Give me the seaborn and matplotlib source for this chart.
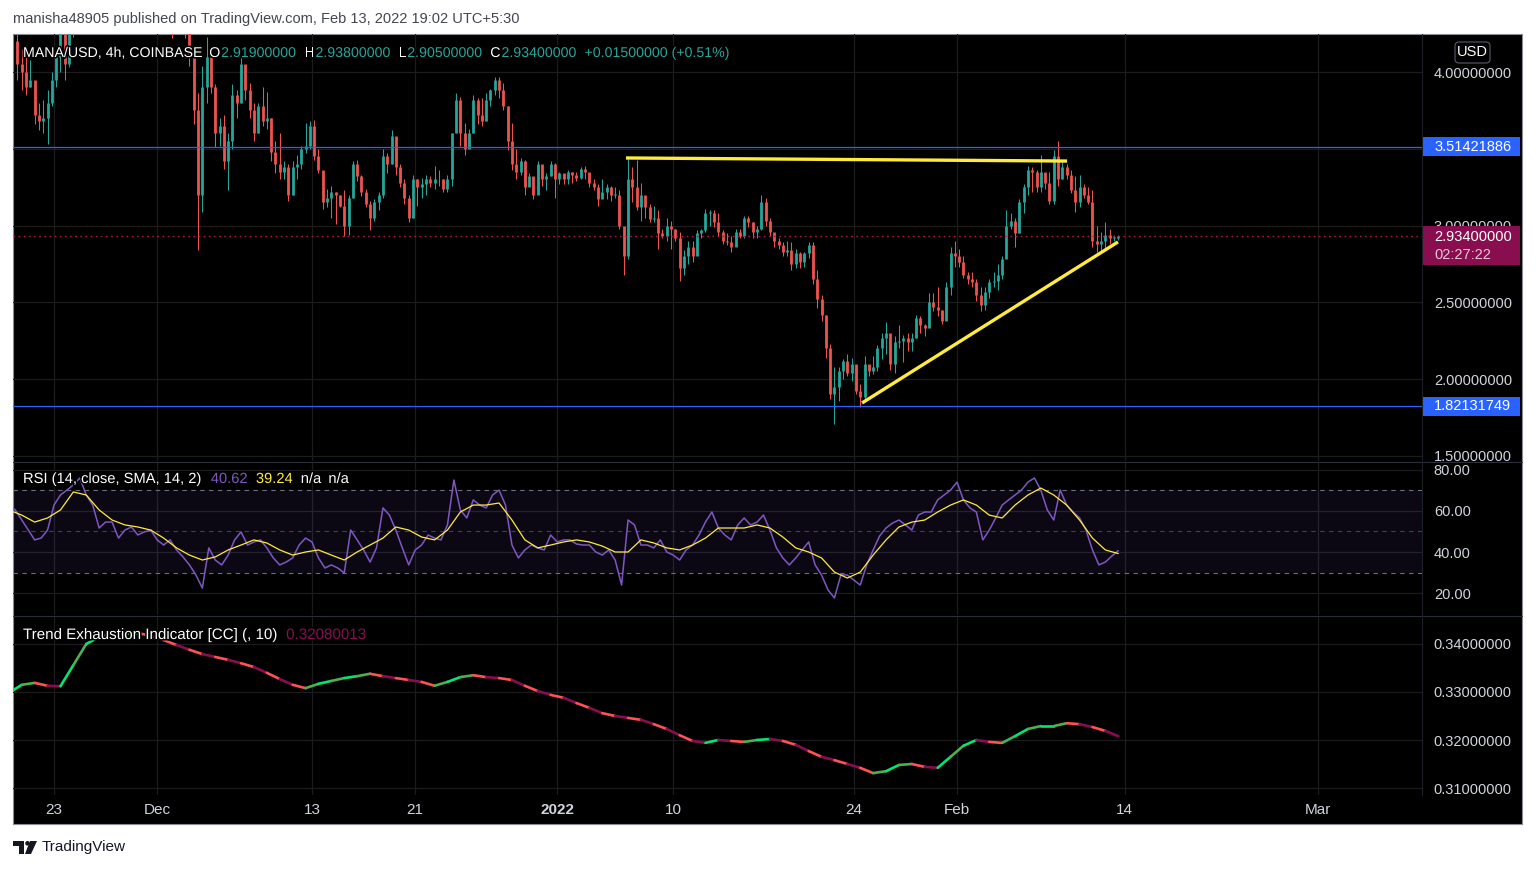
import numpy as np
import pandas as pd
import matplotlib
matplotlib.use("Agg")
import matplotlib.pyplot as plt
import matplotlib.dates as mdates
import matplotlib.patheffects as pe
import seaborn as sns
from matplotlib.collections import LineCollection
from matplotlib.patches import Rectangle, FancyBboxPatch, Polygon, Circle
from matplotlib.transforms import Bbox, TransformedBbox
from datetime import datetime

W, H = 1536, 869

# --- MANA/USD candles, 8h buckets from 2021-11-20 00:00 (3 per day) ---
closes = [
    4.05, 4.00, 3.90,  3.95, 3.72, 3.68,  3.70, 3.80, 3.95,  4.10, 4.25, 4.05,  # Nov 20-23
    4.30, 4.50, 4.70,  4.90, 5.30, 5.60,  5.20, 4.80, 4.90,  5.00, 5.10, 5.00,  # Nov 24-27
    4.80, 4.70, 4.90,  5.10, 5.20, 5.30,  5.50, 5.40, 5.30,                     # Nov 28-30
    5.20, 5.00, 4.90,  4.50, 4.55, 4.50,  4.35, 4.10, 3.75,  3.20, 3.90, 4.10,  # Dec 1-4
    3.90, 3.60, 3.65,  3.42, 3.55, 3.85,  3.80, 4.05, 3.88,  3.75, 3.60, 3.78,  # Dec 5-8
    3.68, 3.70, 3.48,  3.40, 3.35, 3.38,  3.20, 3.38, 3.40,  3.50, 3.52, 3.65,  # Dec 9-12
    3.45, 3.36, 3.15,  3.18, 3.22, 3.20,  3.13, 3.00, 3.18,  3.40, 3.32, 3.22,  # Dec 13-16
    3.14, 3.05, 3.15,  3.20, 3.45, 3.40,  3.58, 3.38, 3.28,  3.18, 3.05, 3.30,  # Dec 17-20
    3.25, 3.27, 3.30,  3.28, 3.30, 3.30,  3.24, 3.30, 3.60,  3.82, 3.60, 3.50,  # Dec 21-24
    3.60, 3.82, 3.72,  3.68, 3.82, 3.88,  3.95, 3.88, 3.78,  3.55, 3.40, 3.35,  # Dec 25-28
    3.42, 3.25, 3.32,  3.20, 3.40, 3.30,  3.32, 3.40, 3.30,                     # Dec 29-31
    3.34, 3.30, 3.35,  3.33, 3.31, 3.37,  3.35, 3.28, 3.25,  3.17, 3.22, 3.25,  # Jan 1-4
    3.20, 3.20, 3.00,  2.80, 3.30, 3.25,  3.12, 3.20, 3.12,  3.04, 3.05, 2.95,  # Jan 5-8
    2.93, 3.00, 2.98,  2.92, 2.72, 2.80,  2.86, 2.80, 2.95,  2.97, 3.08, 3.08,  # Jan 9-12
    3.02, 2.96, 2.90,  2.89, 2.86, 2.96,  2.93, 3.05, 3.02,  2.96, 2.98, 3.15,  # Jan 13-16
    3.03, 2.96, 2.90,  2.87, 2.83, 2.84,  2.75, 2.82, 2.76,  2.82, 2.87, 2.65,  # Jan 17-20
    2.52, 2.42, 2.20,  1.90, 1.95, 2.05,  2.12, 2.04, 2.10,  1.92, 1.88, 2.10,  # Jan 21-24
    2.05, 2.08, 2.20,  2.27, 2.30, 2.10,  2.24, 2.25, 2.27,  2.24, 2.27, 2.40,  # Jan 25-28
    2.35, 2.33, 2.50,  2.47, 2.45, 2.38,  2.60, 2.82, 2.80,                     # Jan 29-31
    2.76, 2.68, 2.65,  2.63, 2.55, 2.48,  2.57, 2.63, 2.64,  2.68, 2.78, 3.00,  # Feb 1-4
    3.03, 2.95, 3.15,  3.25, 3.36, 3.35,  3.25, 3.35, 3.28,  3.16, 3.45, 3.30,  # Feb 5-8
    3.38, 3.33, 3.23,  3.15, 3.25, 3.20,  3.15, 2.90, 2.88,  2.90, 2.94, 2.919, # Feb 9-12
    2.919, 2.934,                                                               # Feb 13
]
highs = [
    4.35, 4.15, 4.10,  4.08, 3.90, 3.80,  3.82, 3.88, 4.00,  4.15, 4.35, 4.40,
    4.40, 4.60, 4.80,  5.10, 5.50, 5.90,  5.60, 5.20, 5.10,  5.20, 5.30, 5.20,
    5.00, 4.90, 5.00,  5.30, 5.40, 5.50,  5.70, 5.60, 5.50,
    5.40, 5.30, 5.10,  4.90, 4.70, 4.70,  4.60, 4.40, 4.10,  3.86, 4.04, 4.23,
    4.16, 3.92, 3.70,  3.72, 3.60, 3.92,  3.88, 4.11, 4.04,  3.93, 3.80, 3.80,
    3.90, 3.87, 3.70,  3.55, 3.60, 3.42,  3.40, 3.42, 3.46,  3.52, 3.67, 3.68,
    3.69, 3.50, 3.34,  3.24, 3.26, 3.22,  3.20, 3.23, 3.20,  3.42, 3.43, 3.33,
    3.24, 3.16, 3.17,  3.22, 3.50, 3.47,  3.62, 3.55, 3.40,  3.30, 3.20, 3.33,
    3.30, 3.31, 3.33,  3.32, 3.39, 3.36,  3.30, 3.33, 3.60,  3.86, 3.84, 3.67,
    3.63, 3.85, 3.83,  3.83, 3.86, 3.89,  3.97, 3.97, 3.93,  3.78, 3.67, 3.50,
    3.44, 3.43, 3.34,  3.27, 3.42, 3.38,  3.34, 3.42, 3.41,
    3.35, 3.33, 3.36,  3.35, 3.35, 3.38,  3.39, 3.33, 3.30,  3.27, 3.30, 3.27,
    3.26, 3.25, 3.23,  2.98, 3.44, 3.38,  3.43, 3.28, 3.14,  3.14, 3.13, 3.10,
    2.98, 3.05, 3.03,  2.98, 2.96, 2.84,  2.90, 2.90, 2.97,  2.98, 3.11, 3.10,
    3.10, 3.08, 2.97,  2.95, 2.93, 2.98,  2.98, 3.06, 3.06,  3.02, 3.00, 3.20,
    3.18, 3.05, 2.95,  2.92, 2.89, 2.90,  2.89, 2.85, 2.83,  2.83, 2.89, 2.89,
    2.71, 2.55, 2.42,  2.23, 2.08, 2.08,  2.13, 2.16, 2.14,  2.09, 1.97, 2.15,
    2.09, 2.15, 2.22,  2.30, 2.37, 2.24,  2.28, 2.35, 2.29,  2.30, 2.30, 2.42,
    2.41, 2.36, 2.56,  2.56, 2.60, 2.45,  2.63, 2.86, 2.90,
    2.85, 2.80, 2.70,  2.70, 2.65, 2.60,  2.60, 2.65, 2.70,  2.75, 2.80, 3.10,
    3.08, 3.05, 3.17,  3.27, 3.39, 3.38,  3.36, 3.46, 3.33,  3.35, 3.49, 3.55,
    3.42, 3.40, 3.36,  3.32, 3.33, 3.27,  3.25, 3.23, 3.00,  2.96, 3.02, 2.98,
    2.94, 2.938,
]
lows = [
    3.95, 3.88, 3.85,  3.90, 3.66, 3.62,  3.60, 3.53, 3.78,  3.90, 4.00, 3.95,
    4.03, 4.23, 4.40,  4.60, 4.90, 5.20,  4.90, 4.60, 4.60,  4.80, 4.90, 4.80,
    4.60, 4.50, 4.60,  4.90, 5.00, 5.10,  5.20, 5.20, 5.10,
    5.00, 4.90, 4.70,  4.22, 4.40, 4.40,  4.22, 4.04, 3.66,  2.84, 3.09, 3.80,
    3.86, 3.51, 3.52,  3.37, 3.23, 3.50,  3.70, 3.80, 3.82,  3.70, 3.55, 3.60,
    3.65, 3.63, 3.42,  3.34, 3.30, 3.30,  3.16, 3.20, 3.30,  3.37, 3.47, 3.50,
    3.43, 3.34, 3.11,  3.12, 3.05, 3.01,  3.12, 2.93, 2.94,  3.18, 3.29, 3.19,
    3.12, 2.97, 3.03,  3.10, 3.18, 3.34,  3.40, 3.33, 3.25,  3.14, 3.02, 3.05,
    3.13, 3.18, 3.20,  3.25, 3.24, 3.26,  3.22, 3.22, 3.26,  3.60, 3.52, 3.46,
    3.52, 3.60, 3.66,  3.65, 3.68, 3.78,  3.85, 3.83, 3.75,  3.49, 3.36, 3.30,
    3.33, 3.20, 3.26,  3.17, 3.22, 3.26,  3.23, 3.32, 3.18,
    3.27, 3.27, 3.27,  3.28, 3.29, 3.30,  3.30, 3.25, 3.23,  3.13, 3.18, 3.17,
    3.16, 3.18, 2.98,  2.68, 2.78, 3.15,  3.10, 3.03, 3.05,  3.02, 3.02, 2.85,
    2.92, 2.90, 2.85,  2.90, 2.64, 2.68,  2.75, 2.76, 2.82,  2.92, 2.96, 3.00,
    2.99, 2.93, 2.88,  2.87, 2.83, 2.87,  2.92, 2.92, 2.99,  2.92, 2.92, 2.97,
    3.00, 2.93, 2.86,  2.85, 2.80, 2.80,  2.71, 2.72, 2.72,  2.73, 2.79, 2.62,
    2.46, 2.38, 2.14,  1.87, 1.71, 1.86,  2.00, 2.02, 1.99,  1.90, 1.82, 1.85,
    2.02, 2.03, 2.05,  2.13, 2.16, 2.06,  2.04, 2.20, 2.11,  2.18, 2.18, 2.27,
    2.30, 2.28, 2.35,  2.44, 2.41, 2.36,  2.44, 2.55, 2.73,
    2.73, 2.66, 2.62,  2.60, 2.51, 2.44,  2.45, 2.53, 2.60,  2.58, 2.65, 2.80,
    2.98, 2.86, 2.95,  3.08, 3.20, 3.22,  3.22, 3.22, 3.24,  3.14, 3.14, 3.26,
    3.30, 3.30, 3.21,  3.09, 3.12, 3.18,  3.14, 2.86, 2.83,  2.83, 2.84, 2.88,
    2.90, 2.905,
]
first_open = 4.20

# --- RSI(14) every 12h from 2021-11-19 12:00 ---
rsi = [
    62.9, 60.5, 55.6, 50.7, 45.9, 46.8, 50.7, 62.9, 67.8, 70.2,
    72.7, 76.1, 67.8, 62.9, 51.7, 54.6, 54.6, 46.8, 50.7, 52.2,
    48.3, 49.8, 50.7, 45.9, 43.4, 45.9, 41.0, 37.6, 33.7, 28.8,
    22.4, 42.0, 36.1, 33.7, 38.5, 45.9, 49.8, 43.4, 44.9, 45.9,
    42.0, 37.1, 33.7, 35.1, 37.1, 43.4, 46.8, 44.9, 37.1, 32.2,
    33.7, 32.2, 29.8, 50.7, 45.9, 41.0, 35.1, 42.0, 61.5, 58.0,
    50.7, 42.0, 33.7, 41.0, 43.4, 48.3, 46.8, 45.9, 53.2, 75.1,
    60.5, 56.6, 65.4, 62.9, 61.5, 67.8, 70.2, 62.9, 43.4, 37.1,
    41.0, 43.4, 42.0, 41.0, 48.3, 44.9, 45.9, 45.9, 43.9, 43.4,
    43.4, 40.0, 38.5, 41.0, 36.1, 23.9, 55.6, 53.2, 43.4, 43.4,
    42.0, 45.9, 40.0, 38.5, 36.1, 41.0, 43.4, 48.3, 54.6, 59.5,
    51.7, 48.3, 45.9, 53.2, 56.6, 53.2, 54.6, 58.0, 50.7, 42.0,
    37.1, 33.7, 37.1, 41.0, 44.9, 33.7, 28.8, 21.5, 17.6, 28.8,
    28.8, 26.3, 23.9, 33.7, 41.0, 47.8, 51.7, 54.1, 55.6, 53.2,
    50.7, 58.0, 59.5, 59.5, 65.4, 67.8, 70.2, 74.1, 65.4, 61.5,
    59.5, 45.9, 50.7, 56.6, 62.9, 65.4, 67.8, 70.2, 74.1, 76.1,
    70.2, 60.5, 55.6, 70.2, 62.9, 59.5, 56.6, 50.7, 41.0, 33.7,
    35.1, 38.0, 40.62,
]
# --- RSI SMA(14) and Trend Exhaustion, daily from 2021-11-19 12:00 ---
rsi_sma = [
    60.5, 58.0, 54.6, 56.6, 60.5, 69.3, 67.8, 60.5, 55.6, 53.2,
    52.2, 50.7, 46.8, 42.0, 38.5, 36.1, 37.6, 41.0, 43.4, 45.9,
    44.4, 41.0, 38.5, 40.0, 41.0, 38.5, 36.1, 40.0, 43.4, 46.8,
    52.2, 50.7, 47.3, 45.9, 50.7, 59.5, 62.9, 62.9, 63.9, 55.6,
    45.9, 42.0, 43.4, 44.9, 45.9, 44.9, 42.9, 40.0, 40.0, 45.9,
    44.4, 42.0, 41.0, 43.4, 46.8, 51.7, 51.7, 51.7, 53.2, 51.7,
    47.3, 42.0, 40.0, 37.1, 30.2, 27.3, 30.2, 38.5, 45.9, 52.2,
    54.6, 55.6, 59.5, 62.9, 65.4, 62.9, 58.0, 56.6, 62.9, 67.8,
    71.2, 67.8, 62.9, 55.6, 46.8, 41.0, 39.24,
]
tei = [
    0.3298, 0.3315, 0.3319, 0.3313, 0.3312, 0.3356, 0.3400, 0.3415, 0.3421, 0.3423,
    0.3423, 0.3417, 0.3408, 0.3398, 0.3388, 0.3379, 0.3373, 0.3367, 0.3360, 0.3352,
    0.3340, 0.3327, 0.3315, 0.3308, 0.3317, 0.3323, 0.3329, 0.3333, 0.3338, 0.3333,
    0.3329, 0.3325, 0.3321, 0.3313, 0.3321, 0.3331, 0.3335, 0.3331, 0.3329, 0.3325,
    0.3313, 0.3302, 0.3294, 0.3288, 0.3277, 0.3267, 0.3256, 0.3250, 0.3246, 0.3242,
    0.3233, 0.3223, 0.3210, 0.3198, 0.3194, 0.3200, 0.3198, 0.3196, 0.3200, 0.3202,
    0.3198, 0.3190, 0.3177, 0.3165, 0.3158, 0.3150, 0.3142, 0.3131, 0.3135, 0.3148,
    0.3150, 0.3144, 0.3142, 0.3165, 0.3188, 0.3200, 0.3196, 0.3194, 0.3208, 0.3223,
    0.3229, 0.3229, 0.3235, 0.3233, 0.3227, 0.3219, 0.3208,
]

# --- drawn trend lines and marked levels ---
res_t = ["2022-01-06 08:10", "2022-02-09 12:45"]
res_p = [3.44, 3.42]
sup_t = ["2022-01-24 15:20", "2022-02-13 11:30"]
sup_p = [1.844, 2.893]
level_hi = 3.51421886
level_lo = 1.82131749
last_price = 2.934
countdown = "02:27:22"

# --- axis ticks ---
price_ticks = [1.5, 2.0, 2.5, 3.0, 3.5, 4.0]
rsi_ticks = [20, 40, 60, 80]
tei_ticks = [0.31, 0.32, 0.33, 0.34]
date_ticks = ["2021-11-23", "2021-12-01", "2021-12-13", "2021-12-21", "2022-01-01",
              "2022-01-10", "2022-01-24", "2022-02-01", "2022-02-14", "2022-03-01"]
date_labels = ["23", "Dec", "13", "21", "2022", "10", "24", "Feb", "14", "Mar"]

UP, DOWN = "#26a69a", "#ef5350"
TXT = "#d1d4dc"
GRID = "#1c1c1f"

sns.set_theme(style="dark")
plt.rcParams["font.family"] = ["Liberation Sans", "DejaVu Sans"]

fig = plt.figure(figsize=(W / 100, H / 100), dpi=100, facecolor="white")


def px_rect(x0, y0, x1, y1):
    return [x0 / W, 1 - y1 / H, (x1 - x0) / W, (y1 - y0) / H]


def tnum(values):
    return mdates.date2num(pd.to_datetime(values).to_pydatetime())


base = mdates.date2num(datetime(2021, 11, 23))
px_day = 12.9
xl, xr = base - (54 - 13) / px_day, base + (1422 - 54) / px_day

# black chart frame
frame = fig.add_axes(px_rect(13, 34, 1522, 824))
frame.set_facecolor("black")
frame.set_xticks([]); frame.set_yticks([])
for s in frame.spines.values():
    s.set_color("#8a8d96"); s.set_linewidth(0.8)

ax_p = fig.add_axes(px_rect(13, 34, 1422, 461))
ax_r = fig.add_axes(px_rect(13, 462, 1422, 615))
ax_t = fig.add_axes(px_rect(13, 616, 1422, 795))

tick_x = tnum(date_ticks)
for ax in (ax_p, ax_r, ax_t):
    ax.set_facecolor("none")
    ax.set_xlim(xl, xr)
    for s in ax.spines.values():
        s.set_visible(False)
    ax.set_xticks(tick_x)
    ax.grid(True, color=GRID, linewidth=0.9)
    ax.set_axisbelow(True)
    ax.yaxis.tick_right()
    ax.tick_params(axis="y", colors=TXT, labelsize=10.5, length=0, pad=8.5)
    ax.tick_params(axis="x", length=0)
    ax.set_xlabel(""); ax.set_ylabel("")

# --- price panel ---
ax_p.set_ylim(1.466, 4.2476)
ax_p.set_yticks(price_ticks)
# the 3.5 label sits under the blue level tag, as in the source chart
ax_p.set_yticklabels(["" if v == 3.5 else f"{v:.8f}" for v in price_ticks])
ax_p.set_xticklabels([])

ct = tnum(pd.date_range("2021-11-20 04:00", periods=len(closes), freq="8h"))
c = np.array(closes); hi = np.array(highs); lo = np.array(lows)
o = np.concatenate([[first_open], c[:-1]])
up = c >= o
cols = np.where(up, UP, DOWN)
ax_p.vlines(ct, lo, hi, colors=cols, linewidth=0.75, zorder=3)
b0 = np.minimum(o, c); b1 = np.maximum(np.maximum(o, c), b0 + 0.006)
ax_p.vlines(ct, b0, b1, colors=cols, linewidth=2.0, zorder=3)

ax_p.axhline(level_hi, color="#2962ff", linewidth=0.9, zorder=4)
ax_p.axhline(level_lo, color="#2962ff", linewidth=0.9, zorder=4)
ax_p.axhline(last_price, color="#b0174f", linewidth=1.0, linestyle=(0, (1.2, 2.5)), zorder=4)
ax_p.plot(tnum(res_t), res_p, color="#ffeb3b", linewidth=2.4, solid_capstyle="butt", zorder=5)
ax_p.plot(tnum(sup_t), sup_p, color="#ffeb3b", linewidth=2.4, solid_capstyle="butt", zorder=5)

# --- RSI panel ---
ax_r.set_ylim(9.27, 83.9)
ax_r.set_yticks(rsi_ticks)
ax_r.set_yticklabels([f"{v:.2f}" for v in rsi_ticks])
ax_r.set_xticklabels([])
ax_r.axhspan(30, 70, color="#7e57c2", alpha=0.1, linewidth=0)
for lvl, a in ((70, 0.9), (50, 0.5), (30, 0.9)):
    ax_r.axhline(lvl, color="#787b86", alpha=a, linewidth=0.8, linestyle=(0, (4, 4)))
rt = tnum(pd.date_range("2021-11-19 12:00", periods=len(rsi), freq="12h"))
dt = tnum(pd.date_range("2021-11-19 12:00", periods=len(rsi_sma), freq="24h"))
sns.lineplot(x=rt, y=rsi, ax=ax_r, color="#7e57c2", linewidth=1.1)
sns.lineplot(x=dt, y=rsi_sma, ax=ax_r, color="#ffeb3b", linewidth=0.9)
ax_r.set_xlabel(""); ax_r.set_ylabel("")

# --- Trend Exhaustion panel ---
ax_t.set_ylim(0.308542, 0.345833)
ax_t.set_yticks(tei_ticks)
ax_t.set_yticklabels([f"{v:.8f}" for v in tei_ticks])
ax_t.set_xticklabels(date_labels)
ax_t.tick_params(axis="x", colors=TXT, labelsize=11, pad=5.5)
for lab in ax_t.get_xticklabels():
    if lab.get_text() == "2022":
        lab.set_fontweight("bold")
tv = np.array(tei)
pts = np.column_stack([dt, tv])
segs = np.stack([pts[:-1], pts[1:]], axis=1)
seg_cols = []
for i, dv in enumerate(np.diff(tv)):
    if dv >= 0:
        seg_cols.append("#00e676" if i % 2 == 0 else "#4caf50")
    else:
        seg_cols.append("#ff5252" if i % 2 == 0 else "#880e4f")
ax_t.add_collection(LineCollection(segs, colors=seg_cols, linewidth=1.9, capstyle="round"))


def data_y(ax, val):
    return H - ax.transData.transform((xr, val))[1]


# clip scale labels at panel borders (and the 3.0 label at the last-price tag)
def clip_labels(ax, y_top, y_bot, special=None):
    for t, loc in zip(ax.yaxis.get_major_ticks(), ax.get_yticks()):
        yb = y_bot
        if special is not None and abs(loc - special[0]) < 1e-9:
            yb = special[1]
        bb = TransformedBbox(Bbox.from_extents(1422 / W, 1 - yb / H, 1, 1 - y_top / H), fig.transFigure)
        t.label2.set_clip_box(bb)
        t.label2.set_clip_on(True)


tag_top = data_y(ax_p, last_price) - 9.6
clip_labels(ax_p, 34, 461, special=(3.0, tag_top))
clip_labels(ax_r, 462, 615)
clip_labels(ax_t, 616, 795)

# --- overlay in pixel coordinates ---
ov = fig.add_axes([0, 0, 1, 1])
ov.set_xlim(0, W); ov.set_ylim(H, 0)
ov.axis("off")
ov.patch.set_alpha(0)
ov.set_zorder(10)

for yy in (461.5, 615.5):
    ov.plot([13, 1522], [yy, yy], color="#2a2e39", linewidth=0.8)
ov.plot([1422, 1422], [34, 795], color="#1e2027", linewidth=0.8)

for val in (level_hi, level_lo):
    y = data_y(ax_p, val)
    ov.add_patch(Rectangle((1422, y - 9.5), 98, 19, color="#2962ff", linewidth=0))
    ov.text(1434, y, f"{val:.8f}", color="white", fontsize=10.5, va="center", ha="left")

y = data_y(ax_p, last_price)
ov.add_patch(Rectangle((1422, y - 9.6), 98, 39, color="#880e4f", linewidth=0))
ov.text(1434, y + 1, f"{last_price:.8f}", color="white", fontsize=10.5, va="center", ha="left")
ov.text(1434, y + 19, countdown, color="#e8c6d6", fontsize=10.5, va="center", ha="left")

ov.add_patch(FancyBboxPatch((1455, 42), 35, 21, boxstyle="round,pad=0,rounding_size=4",
                            fc="black", ec="#50535e", linewidth=0.9))
ov.text(1472.5, 52.5, "USD", color="white", fontsize=10.5, va="center", ha="center")

renderer = fig.canvas.get_renderer()
shadow = [pe.withStroke(linewidth=2.2, foreground="black")]


def chain(x, y, pieces, size=10):
    for txt, col, gap in pieces:
        x += gap
        t = ov.text(x, y, txt, color=col, fontsize=size, va="center", ha="left", path_effects=shadow)
        x += t.get_window_extent(renderer).width


chain(23, 53, [("MANA/USD, 4h, COINBASE", "white", 0), ("O", "white", 8), ("2.91900000", UP, 1),
               ("H", "white", 9), ("2.93800000", UP, 1), ("L", "white", 9), ("2.90500000", UP, 1),
               ("C", "white", 9), ("2.93400000", UP, 1), ("+0.01500000 (+0.51%)", UP, 9)], size=10.2)
chain(23, 479, [("RSI (14, close, SMA, 14, 2)", "white", 0), ("40.62", "#7e57c2", 9),
                ("39.24", "#ffeb3b", 8), ("n/a", "white", 8), ("n/a", "white", 7)], size=10.6)
chain(23, 635, [("Trend Exhaustion Indicator [CC] (, 10)", "white", 0), ("0.32080013", "#880e4f", 9)],
      size=10.9)

ov.text(13, 19, "manisha48905 published on TradingView.com, Feb 13, 2022 19:02 UTC+5:30",
        color="#434651", fontsize=10.5, va="center", ha="left")

# footer logo + name
LOGO = "#131722"
ov.add_patch(Rectangle((13, 841), 11, 4.5, color=LOGO, linewidth=0))
ov.add_patch(Rectangle((18.5, 841), 5.5, 13, color=LOGO, linewidth=0))
ov.add_patch(Circle((27.5, 843.3), 2.3, color=LOGO, linewidth=0))
ov.add_patch(Polygon([(30, 841), (37, 841), (31, 854), (25, 854)], closed=True, color=LOGO, linewidth=0))
ov.text(42, 847.5, "TradingView", color=LOGO, fontsize=11, va="center", ha="left")

fig.savefig("out.png", dpi=100, facecolor="white")
